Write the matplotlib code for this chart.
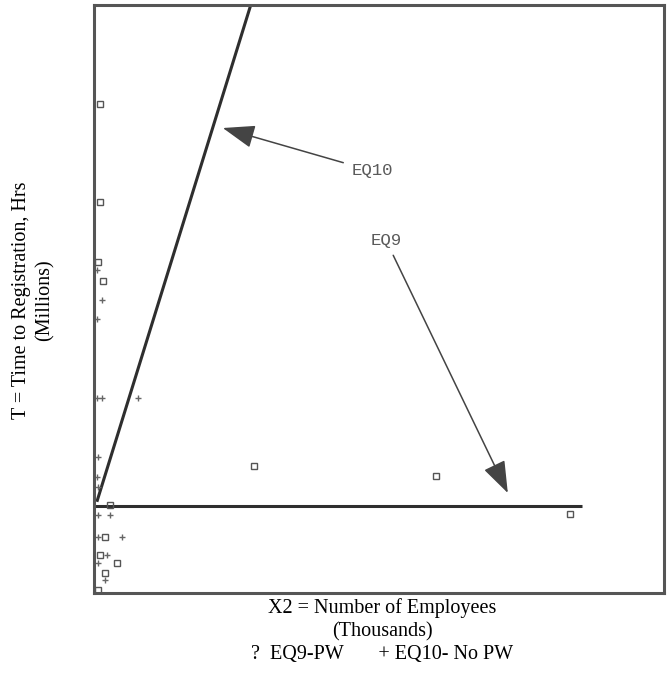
# scanned regression chart: time to registration vs number of employees

import numpy as np
import matplotlib
matplotlib.use("Agg")
import matplotlib.pyplot as plt

# ------------ data ------------

# EQ9-PW observations (open squares)
sq_x = [0.105, 0.105, 0.07, 0.16, 2.81, 6.0, 8.35, 0.28, 0.19, 0.105, 0.40, 0.19, 0.07]
sq_y = [4.02, 3.04, 2.44, 2.25, 0.40, 0.30, -0.08, 0.01, -0.31, -0.49, -0.57, -0.67, -0.84]

# EQ10- No PW observations (plus marks)
pl_x = [0.05, 0.14, 0.05, 0.05, 0.14, 0.77, 0.07, 0.05, 0.07, 0.07, 0.28, 0.07, 0.49, 0.23, 0.07, 0.19]
pl_y = [2.36, 2.06, 1.87, 1.08, 1.08, 1.08, 0.49, 0.29, 0.19, -0.09, -0.09, -0.31, -0.31, -0.49, -0.57, -0.74]

# fitted lines y = b + a*x, drawn over [x0, x1]
eq_names = ["EQ9", "EQ10"]
eq_a = [0.0, 1.84]
eq_b = [0.0, -0.05]
eq_x0 = [0.0, 0.05]
eq_x1 = [8.56, 3.0]

# labels and where their arrows point
lab_xy = [(5.12, 2.66), (4.88, 3.35)]
tip_xy = [(7.26, 0.13), (2.26, 3.78)]

# ------------ plot ------------

fig = plt.figure(figsize=(6.7, 6.76), dpi=100)
ax = fig.add_axes([94/670, 83/676, 570/670, 588/676])

for i in range(len(eq_names)):
    xs = np.array([eq_x0[i], eq_x1[i]])
    ax.plot(xs, eq_b[i] + eq_a[i]*xs, color='#2e2e2e', lw=2.2, solid_capstyle='butt')

ax.plot(sq_x, sq_y, 's', ms=4, mfc='none', mec='#555555', mew=1.0)
ax.plot(pl_x, pl_y, '+', ms=4, color='#666666', mew=1.0)

for i in range(len(eq_names)):
    ax.annotate(eq_names[i], xy=tip_xy[i], xytext=lab_xy[i],
                ha='center', va='center', family='Liberation Mono',
                fontsize=12.5, color='#5a5a5a',
                arrowprops=dict(arrowstyle='-|>,head_length=1.0,head_width=0.36',
                                mutation_scale=20, color='#444444', lw=1.1,
                                shrinkA=4, shrinkB=0))

ax.set_xlim(0, 10)
ax.set_ylim(-0.87, 5.01)
ax.set_xticks([])
ax.set_yticks([])
for s in ax.spines.values():
    s.set_color('#555555')
    s.set_linewidth(2.2)

fig.text(382/670, 45/676,
         "X2 = Number of Employees\n(Thousands)\n?  EQ9-PW       + EQ10- No PW",
         ha='center', va='center', family='Liberation Serif', fontsize=14.5,
         linespacing=1.29)
fig.text(33/670, 376/676, "T = Time to Registration, Hrs\n(Millions)",
         ha='center', va='center', rotation=90, family='Liberation Serif',
         fontsize=14.5, linespacing=1.29)

fig.savefig("out.png", dpi=100)
